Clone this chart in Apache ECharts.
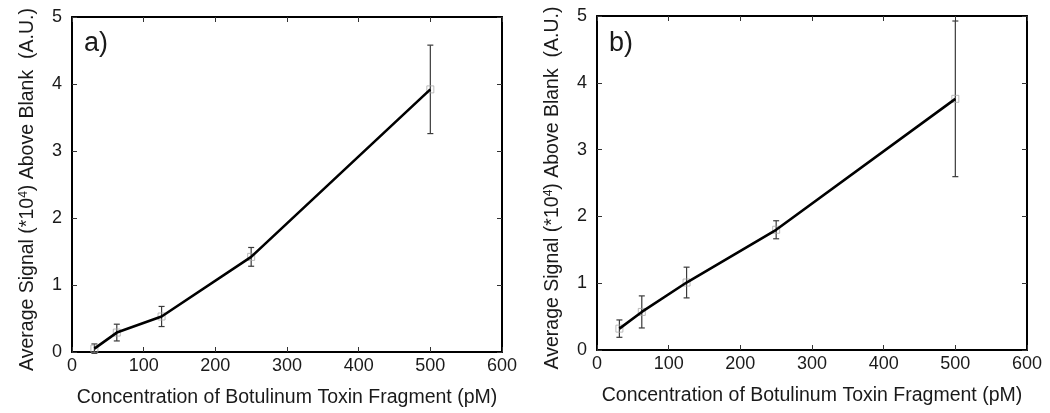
<!DOCTYPE html>
<html>
<head>
<meta charset="utf-8">
<script src="https://cdn.jsdelivr.net/npm/echarts@6/dist/echarts.min.js"></script>
<style>
html,body{margin:0;padding:0;background:#fff;}
#chart{width:1050px;height:413px;}
</style>
</head>
<body>
<div id="chart"></div>
<script>
// ---- data ----
const concentrations = [31.25, 62.5, 125, 250, 500];
const meanA = [0.05, 0.29, 0.53, 1.42, 3.92];
const errA  = [0.07, 0.125, 0.15, 0.14, 0.66];
const meanB = [0.32, 0.57, 1.01, 1.80, 3.76];
const errB  = [0.13, 0.24, 0.23, 0.135, 1.165];
const panelLabels = ['a)', 'b)'];
const xTitle = 'Concentration of Botulinum Toxin Fragment (pM)';
const yTitle = 'Average Signal (*10{sup|4}) Above Blank  (A.U.)';

const FONT = '"Liberation Sans", Arial, sans-serif';
const TXT = '#1a1a1a';

const grids = [
  {left: 72, top: 17, width: 430, height: 335},
  {left: 597, top: 16, width: 430, height: 334}
];

function xAxes(gi) {
  const base = {
    type: 'value', gridIndex: gi, min: 0, max: 600, interval: 100,
    axisLine: {show: true, onZero: false, lineStyle: {color: '#000', width: 2}},
    axisTick: {show: true, inside: true, length: 5, lineStyle: {color: '#333', width: 1}},
    splitLine: {show: false}
  };
  return [
    Object.assign({}, base, {
      position: 'bottom',
      axisLabel: {color: TXT, fontSize: 18, fontFamily: FONT, margin: 5},
      name: xTitle, nameLocation: 'middle', nameGap: 36,
      nameTextStyle: {color: TXT, fontSize: 19.5, fontFamily: FONT}
    }),
    Object.assign({}, base, {position: 'top', axisLabel: {show: false}})
  ];
}
function yAxes(gi) {
  const base = {
    type: 'value', gridIndex: gi, min: 0, max: 5, interval: 1,
    axisLine: {show: true, onZero: false, lineStyle: {color: '#000', width: 2}},
    axisTick: {show: true, inside: true, length: 5, lineStyle: {color: '#333', width: 1}},
    splitLine: {show: false}
  };
  return [
    Object.assign({}, base, {
      position: 'left',
      axisLabel: {color: TXT, fontSize: 18, fontFamily: FONT, margin: 10},
      name: yTitle, nameLocation: 'middle', nameGap: 34,
      nameTextStyle: {color: TXT, fontSize: 19.5, fontFamily: FONT, padding: [0, 10, 0, 0],
        rich: {sup: {fontSize: 12, fontFamily: FONT, color: TXT, verticalAlign: 'top', lineHeight: 12, padding: [0, 0, 9, 0]}}}
    }),
    Object.assign({}, base, {position: 'right', axisLabel: {show: false}})
  ];
}

function seriesFor(gi, mean, err) {
  const pts = concentrations.map((c, i) => [c, mean[i]]);
  const errData = concentrations.map((c, i) => [c, mean[i] - err[i], mean[i] + err[i]]);
  return [
    {
      type: 'custom', xAxisIndex: gi * 2, yAxisIndex: gi * 2, z: 2,
      data: errData,
      renderItem: function (params, api) {
        const x = api.value(0);
        const lo = api.coord([x, api.value(1)]);
        const hi = api.coord([x, api.value(2)]);
        const cap = 3;
        const st = {stroke: '#3a3a3a', lineWidth: 1.2};
        return {type: 'group', children: [
          {type: 'line', shape: {x1: lo[0], y1: lo[1], x2: hi[0], y2: hi[1]}, style: st},
          {type: 'line', shape: {x1: lo[0] - cap, y1: lo[1], x2: lo[0] + cap, y2: lo[1]}, style: st},
          {type: 'line', shape: {x1: hi[0] - cap, y1: hi[1], x2: hi[0] + cap, y2: hi[1]}, style: st}
        ]};
      }
    },
    {
      type: 'scatter', xAxisIndex: gi * 2, yAxisIndex: gi * 2, z: 3,
      data: pts, symbol: 'rect', symbolSize: 7,
      itemStyle: {color: 'rgba(255,255,255,0)', borderColor: '#aaa', borderWidth: 1}
    },
    {
      type: 'line', xAxisIndex: gi * 2, yAxisIndex: gi * 2, z: 4,
      data: pts, showSymbol: false, symbol: 'none',
      lineStyle: {color: '#000', width: 2.6}
    }
  ];
}

const chart = echarts.init(document.getElementById('chart'), null, {renderer: 'canvas'});
chart.setOption({
  animation: false,
  backgroundColor: '#fff',
  grid: grids.map(g => Object.assign({containLabel: false}, g)),
  xAxis: [...xAxes(0), ...xAxes(1)],
  yAxis: [...yAxes(0), ...yAxes(1)],
  graphic: panelLabels.map((t, i) => ({
    type: 'text', left: grids[i].left + 12, top: 30,
    style: {text: t, font: '27px ' + FONT, fill: TXT}
  })),
  series: [...seriesFor(0, meanA, errA), ...seriesFor(1, meanB, errB)]
});
</script>
</body>
</html>
